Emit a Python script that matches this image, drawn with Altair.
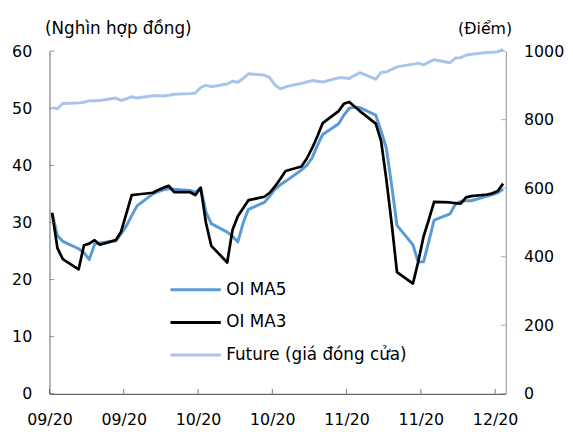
import altair as alt
import pandas as pd

FONT = "DejaVu Sans"

# Trading days (x categories)
dates = pd.bdate_range("2020-09-16", "2020-12-10").strftime("%Y-%m-%d").tolist()

oi_ma5 = [31.6, 27.7, 26.7,
          25.4, 24.7, 23.5, 26.2, 26.4,
          26.8, 28.0, 29.4, 31.2, 32.9,
          35.0, 35.4, 35.7, 35.9, 35.8,
          35.6, 35.3, 36.0, 31.8, 29.8,
          28.3, 27.6, 26.6, 29.9, 32.3,
          33.5, 34.6, 35.8, 36.6, 37.2,
          39.2, 40.0, 41.3, 43.5, 45.4,
          47.3, 48.8, 50.0, 50.2, 50.1,
          48.8, 46.0, 43.0, 36.5, 29.5,
          26.1, 23.1, 23.1, 26.7, 30.4,
          31.5, 33.2, 33.7, 33.8, 33.8,
          34.6, 34.9, 35.2, 35.8]

oi_ma3 = [31.7, 25.5, 23.6,
          21.8, 26.0, 26.3, 26.9, 26.1,
          26.9, 28.4, 31.6, 34.8, 34.9,
          35.2, 35.7, 36.1, 36.4, 35.3,
          35.3, 34.8, 36.1, 29.9, 25.9,
          23.0, 28.7, 31.1, 32.5, 33.9,
          34.5, 35.2, 36.3, 37.6, 39.0,
          39.8, 41.2, 43.0, 45.1, 47.4,
          49.5, 50.8, 51.1, 50.3, 49.5,
          47.3, 44.3, 37.5, 29.8, 21.3,
          19.3, 23.1, 27.5, 30.5, 33.6,
          33.5, 33.4, 33.3, 34.4, 34.6,
          34.9, 35.1, 35.5, 36.8]

future = [835, 832, 847,
          849, 851, 855, 855, 856,
          863, 856, 861, 867, 863,
          870, 870, 869, 871, 874,
          876, 878, 894, 900, 896,
          904, 912, 909, 920, 934,
          930, 923, 901, 890, 896,
          906, 910, 914, 912, 910,
          922, 922, 920, 929, 937,
          918, 938, 939, 947, 954,
          962, 965, 960, 968, 975,
          966, 980, 981, 988, 991,
          996, 997, 998, 1005]

series_names = ["OI MA5", "OI MA3", "Future (giá đóng cửa)"]
series_colors = ["#5B9BD5", "#000000", "#A9C4EB"]

left_ticks = [0, 10, 20, 30, 40, 50, 60]
right_ticks = [0, 200, 400, 600, 800, 1000]
x_ticks = ["2020-09-15T12:00:00Z", "2020-09-29T12:00:00Z", "2020-10-13T12:00:00Z",
           "2020-10-27T12:00:00Z", "2020-11-10T12:00:00Z", "2020-11-24T12:00:00Z",
           "2020-12-08T12:00:00Z"]
x_start = "2020-09-15T12:00:00Z"
x_end = "2020-12-10T12:00:00Z"


def dt(s):
    t = pd.Timestamp(s)
    return alt.DateTime(year=t.year, month=t.month, date=t.day, hours=t.hour, utc=True)


df5 = pd.DataFrame({"date": dates, "series": series_names[0], "value": oi_ma5})
df3 = pd.DataFrame({"date": dates, "series": series_names[1], "value": oi_ma3})
dff = pd.DataFrame({"date": dates, "series": series_names[2], "value": future})
lt_df = pd.DataFrame({"v": left_ticks})
rt_df = pd.DataFrame({"v": right_ticks})
xt_df = pd.DataFrame({"t": x_ticks})

x_scale = alt.Scale(type="utc", domain=[dt(x_start), dt(x_end)])
x_axis = alt.Axis(title=None, values=[dt(s) for s in x_ticks], format="%m/%y",
                  labelFont=FONT, labelFontSize=16, labelColor="#000000",
                  labelPadding=18, labelFlush=False, labelOverlap=False,
                  ticks=False, tickSize=0, grid=False,
                  domainColor="#404040", domainWidth=1)

left_scale = alt.Scale(domain=[0, 60], nice=False)
left_axis = alt.Axis(orient="left", title="(Nghìn hợp đồng)", titleAngle=0,
                     titleAlign="left", titleBaseline="alphabetic", titleX=-5, titleY=-18,
                     titleFont=FONT, titleFontSize=17, titleFontWeight="normal",
                     titleColor="#000000", values=left_ticks,
                     labelFont=FONT, labelFontSize=16, labelColor="#000000",
                     labelPadding=18, labelFlush=False, ticks=False, tickSize=0,
                     grid=False, domainColor="#666666", domainWidth=1)

right_scale = alt.Scale(domain=[0, 1000], nice=False)
right_axis = alt.Axis(orient="right", title="(Điểm)", titleAngle=0,
                      titleAlign="right", titleBaseline="alphabetic", titleX=6, titleY=-18,
                      titleFont=FONT, titleFontSize=16, titleFontWeight="normal",
                      titleColor="#000000", values=right_ticks, format="d",
                      labelFont=FONT, labelFontSize=16, labelColor="#000000",
                      labelPadding=18, labelFlush=False, ticks=False, tickSize=0,
                      grid=False, domainColor="#8c8c8c", domainWidth=1)

color_scale = alt.Scale(domain=series_names, range=series_colors)
legend = alt.Legend(title=None, orient="none", legendX=139.5, legendY=233.2,
                    direction="vertical", symbolType="M-6,0H6", symbolSize=72.25,
                    symbolStrokeWidth=3, labelFont=FONT, labelFontSize=17,
                    labelColor="#000000", labelOffset=22.5, labelLimit=400,
                    rowPadding=15, padding=0, offset=0)

X = alt.X("date:T", scale=x_scale, axis=x_axis)
color = alt.Color("series:N", scale=color_scale, legend=legend)

ma5 = alt.Chart(df5).mark_line(strokeWidth=3, strokeJoin="round").encode(
    x=X, y=alt.Y("value:Q", scale=left_scale, axis=left_axis), color=color)
ma3 = alt.Chart(df3).mark_line(strokeWidth=2.75, strokeJoin="round").encode(
    x=X, y=alt.Y("value:Q", scale=left_scale, axis=left_axis), color=color)
lticks = alt.Chart(lt_df).mark_tick(orient="horizontal", size=5, thickness=1,
                                    color="#666666").encode(
    y=alt.Y("v:Q", scale=left_scale, axis=left_axis), x=alt.value(2.5))
xticks = alt.Chart(xt_df).mark_tick(orient="vertical", size=5, thickness=1,
                                    color="#404040").encode(
    x=alt.X("t:T", scale=x_scale, axis=x_axis), y=alt.value(344.5))

fut = alt.Chart(dff).mark_line(strokeWidth=3, strokeJoin="round").encode(
    x=X, y=alt.Y("value:Q", scale=right_scale, axis=right_axis), color=color)
rticks = alt.Chart(rt_df).mark_tick(orient="horizontal", size=5, thickness=1,
                                    color="#8c8c8c").encode(
    y=alt.Y("v:Q", scale=right_scale, axis=right_axis), x=alt.value(459.5))

left = alt.layer(ma5, ma3, lticks, xticks)
right = alt.layer(fut, rticks)

chart = alt.layer(left, right).resolve_scale(y="independent").properties(
    width=462, height=347,
    padding={"left": 42, "top": 41, "right": 60, "bottom": 36},
    autosize="none",
    background="white",
).configure_view(strokeWidth=0)

chart.save("out.html", embed_options={"renderer": "svg", "actions": False})
